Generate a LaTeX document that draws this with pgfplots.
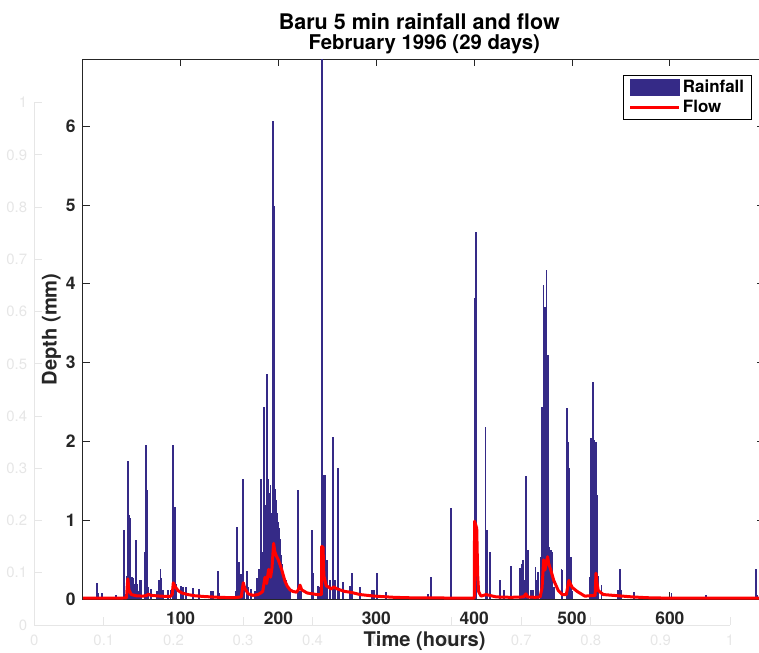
\documentclass[border=0pt]{standalone}
\usepackage{fontspec}
\setmainfont{TeX Gyre Heros}
\usepackage{pgfplots}
\pgfplotsset{compat=1.18}
\definecolor{barblue}{RGB}{53,42,135}
\definecolor{axgray}{RGB}{38,38,38}
\definecolor{bggray}{RGB}{230,230,230}
\begin{document}
\begin{tikzpicture}
% faint background axes
\begin{axis}[
  at={(-48.5bp,-25.7bp)}, anchor=south west,
  scale only axis, width=695.7bp, height=522.3bp,
  xmin=0, xmax=1, ymin=0, ymax=1,
  axis x line*=bottom, axis y line*=left,
  axis line style={bggray, line width=1bp, -},
  xtick={0,0.1,0.2,0.3,0.4,0.5,0.6,0.7,0.8,0.9,1},
  ytick={0,0.1,0.2,0.3,0.4,0.5,0.6,0.7,0.8,0.9,1},
  tick align=inside,
  tick style={bggray, line width=1bp}, major tick length=8bp,
  ticklabel style={font=\fontsize{15}{18}\selectfont, text=bggray},
  /pgf/number format/assume math mode=true,
  xticklabel style={anchor=north, inner sep=0pt, yshift=-10bp},
  yticklabel style={anchor=east, inner sep=0pt, xshift=-7bp},
]
\addplot[draw=none] coordinates {(0,0)};
\end{axis}
% main axes
\begin{axis}[
  name=main, at={(0bp,0bp)}, anchor=south west,
  scale only axis, width=681bp, height=540bp,
  xmin=0, xmax=696, ymin=0, ymax=6.846,
  xtick={100,200,300,400,500,600}, ytick={0,1,2,3,4,5,6},
  axis background/.style={fill=white},
  axis line style={axgray, line width=0.8bp},
  tick style={axgray, line width=0.8bp}, major tick length=7bp,
  ticklabel style={font=\fontsize{17.5}{20}\selectfont\bfseries, text=axgray},
  /pgf/number format/assume math mode=true,
  xticklabel style={anchor=north, inner sep=0pt, yshift=-12bp},
  yticklabel style={anchor=east, inner sep=0pt, xshift=-7bp},
  legend style={at={(0.9827,0.971)}, anchor=north east, draw=black, line width=0.8bp,
    fill=white, font=\fontsize{17}{19}\selectfont\bfseries, inner xsep=5.5bp, inner ysep=3bp,
    row sep=2bp, cells={anchor=west}, nodes={inner sep=2bp}},
]
\addplot[ycomb, color=barblue, line width=1.7bp,
  legend image code/.code={\fill[barblue] (0bp,-7.8bp) rectangle (49bp,7.8bp);}]
coordinates {
(14.8,0.21)(15.4,0.08)(19.6,0.08)(20.2,0.05)(33.9,0.06)(42.1,0.88)(45.5,0.3)(46.1,1.75)(46.8,0.5)
(47.8,1.07)(48.9,1.03)(50.1,0.28)(51.6,0.27)(52.6,0.2)(54.4,0.75)(55.4,0.2)(56.6,0.1)(58.5,0.25)
(59.6,0.25)(63.3,0.60)(64.3,1.95)(65.1,0.8)(65.9,1.39)(67.2,0.15)(69.4,0.13)(75.5,0.11)(77.6,0.25)
(79.3,0.38)(80.5,0.27)(82.1,0.12)(87.4,0.12)(89.7,0.12)(91.9,1.96)(92.8,0.6)(94.2,1.17)(95.9,0.2)
(100.7,0.17)(102.7,0.16)(105.3,0.16)(112.9,0.14)(118.5,0.13)(130.7,0.10)(133.2,0.10)(138.4,0.36)(139.1,0.08)
(156.2,0.1)(157.5,0.92)(159.6,0.47)(161.6,0.32)(163.7,1.52)(165.0,0.17)(167.5,0.36)(169.2,0.16)(171.9,0.13)
(175.9,0.1)(177.7,0.27)(178.9,0.15)(180.0,0.38)(180.9,0.2)(182.1,1.52)(182.9,0.5)(183.7,0.2)(184.5,0.6)
(185.5,2.44)(186.4,0.6)(187.1,1.2)(187.9,2.86)(188.7,1.0)(189.6,1.53)(190.2,0.9)(190.7,1.35)(191.3,0.8)
(191.9,1.45)(192.5,1.1)(193.2,1.0)(194.1,6.07)(194.6,2.0)(195.3,4.98)(195.8,1.45)(196.3,1.4)(196.6,1.33)
(197.3,1.26)(198.0,1.22)(198.6,1.1)(199.1,1.0)(199.8,0.98)(200.5,0.9)(201.3,0.77)(202.0,0.65)(202.8,0.56)
(203.6,0.45)(204.3,0.35)(205.0,0.3)(205.8,0.26)(206.8,0.24)(207.8,0.24)(208.8,0.2)(209.8,0.15)(211.8,0.1)
(219.6,1.38)(220.2,0.5)(220.7,0.1)(222.7,0.1)(233.9,0.88)(235.4,0.33)(240.6,0.17)(242.1,0.15)(244.8,6.85)
(246.1,1.57)(247.2,1.57)(248.6,0.5)(250.2,0.5)(252.5,0.24)(256.0,2.06)(257.5,0.24)(260.5,1.66)(262.5,0.1)
(266.2,0.22)(273.0,0.17)(274.8,0.33)(283.3,0.15)(295.5,0.12)(297.8,0.12)(301.0,0.33)(309.8,0.09)
(353.1,0.07)(355.9,0.28)(376.3,1.16)(376.9,0.07)
(400.4,3.82)(401.8,4.66)(411.7,2.18)(413.1,0.88)(416.1,0.6)(416.6,0.2)(426.3,0.24)(430.1,0.12)(431.1,0.12)
(437.5,0.42)(447.1,0.40)(448.5,0.45)(450.1,0.50)(450.9,0.25)(452.8,1.56)(454.2,0.63)(454.9,0.62)(458.4,0.12)
(459.9,0.12)(462.8,0.41)(464.5,0.25)(465.4,0.34)(467.9,0.54)(469.5,2.44)(470.9,3.99)(472.3,3.7)(474.0,4.18)
(475.3,3.1)(477.1,0.66)(478.3,0.62)(479.3,0.6)(481.3,0.15)(489.3,0.38)(490.2,0.37)(494.8,2.43)(496.0,2.0)
(497.5,1.66)(498.7,0.54)(500.2,0.1)(518.3,0.28)(519.6,2.04)(520.4,2.0)(521.7,2.75)(523.1,2.02)(524.5,2.0)
(526.1,1.32)(527.0,0.3)(530.2,0.18)(547.2,0.12)(548.1,0.12)(548.9,0.38)(549.9,0.12)(563.2,0.09)(601.7,0.08)
(636.8,0.06)(688.0,0.38)(688.7,0.06)
};
\addlegendentry{Rainfall}
\addplot[color=red, line width=3bp, line join=round,
  legend image code/.code={\draw[red, line width=3bp] (0bp,0bp) -- (49bp,0bp);}]
coordinates {
(0,0.015)(39.7,0.015)(44.7,0.02)(45.6,0.2)(46.1,0.26)(47.1,0.12)(49.6,0.06)(54.6,0.045)(61.6,0.04)
(65.5,0.05)(67.0,0.065)(69.5,0.05)(79.5,0.04)(89.4,0.035)(91.4,0.06)(92.5,0.21)(94.4,0.16)(97.4,0.11)
(101.3,0.08)(107.3,0.06)(114.3,0.045)(124.2,0.035)(139.1,0.025)(154.1,0.02)(162.0,0.03)(164.0,0.21)
(165.5,0.14)(169.0,0.07)(173.9,0.05)(178.9,0.06)(181.9,0.08)(183.9,0.1)(186.2,0.28)(187.9,0.2)(189.9,0.38)
(191.9,0.28)(193.4,0.4)(195.0,0.71)(196.3,0.6)(197.8,0.55)(199.8,0.5)(203.2,0.38)(206.6,0.23)(208.8,0.17)
(211.8,0.12)(214.7,0.1)(218.4,0.09)(220.2,0.12)(222.0,0.18)(223.7,0.12)(229.3,0.08)(239.4,0.06)(243.9,0.06)
(244.2,0.67)(245.5,0.66)(246.4,0.3)(248.8,0.17)(250.5,0.16)(254.1,0.13)(256.5,0.16)(258.5,0.14)(260.5,0.13)
(267.5,0.1)(273.4,0.09)(283.4,0.06)(298.3,0.04)(318.2,0.025)(338.1,0.018)(399.8,0.015)(400.1,0.03)
(400.4,0.99)(402.6,0.9)(403.6,0.3)(404.5,0.1)(407.0,0.04)(412.1,0.06)(415.6,0.05)(422.6,0.03)(437.5,0.025)
(450.5,0.03)(452.9,0.07)(454.4,0.03)(462.4,0.025)(467.4,0.03)(469.4,0.15)(471.0,0.5)(472.3,0.37)(475.0,0.54)
(476.3,0.45)(478.3,0.37)(481.3,0.24)(486.0,0.11)(490.2,0.06)(494.2,0.06)(496.8,0.24)(498.2,0.2)(500.2,0.15)
(505.2,0.1)(513.1,0.04)(523.6,0.05)(524.5,0.33)(525.6,0.2)(526.8,0.11)(532.0,0.06)(542.0,0.05)(551.9,0.04)
(561.8,0.03)(576.8,0.02)(596.7,0.015)(696,0.015)
};
\addlegendentry{Flow}
\end{axis}
\node[anchor=base, font=\fontsize{21.6}{21}\selectfont\bfseries] at ([xshift=-4bp,yshift=30bp]main.north) {Baru 5 min rainfall and flow};
\node[anchor=base, font=\fontsize{20.4}{21}\selectfont\bfseries] at ([xshift=1bp,yshift=10bp]main.north) {February 1996 (29 days)};
\node[anchor=base, font=\fontsize{20.2}{22}\selectfont\bfseries, text=axgray] at ([xshift=1.3bp,yshift=-47bp]main.south) {Time (hours)};
\node[anchor=base, rotate=90, font=\fontsize{20.2}{22}\selectfont\bfseries, text=axgray] at ([xshift=-26.3bp]main.west) {Depth (mm)};
\pgfresetboundingbox
\path[use as bounding box] (-82.8bp,-53.7bp) rectangle (676.2bp,599.3bp);
\end{tikzpicture}
\end{document}
